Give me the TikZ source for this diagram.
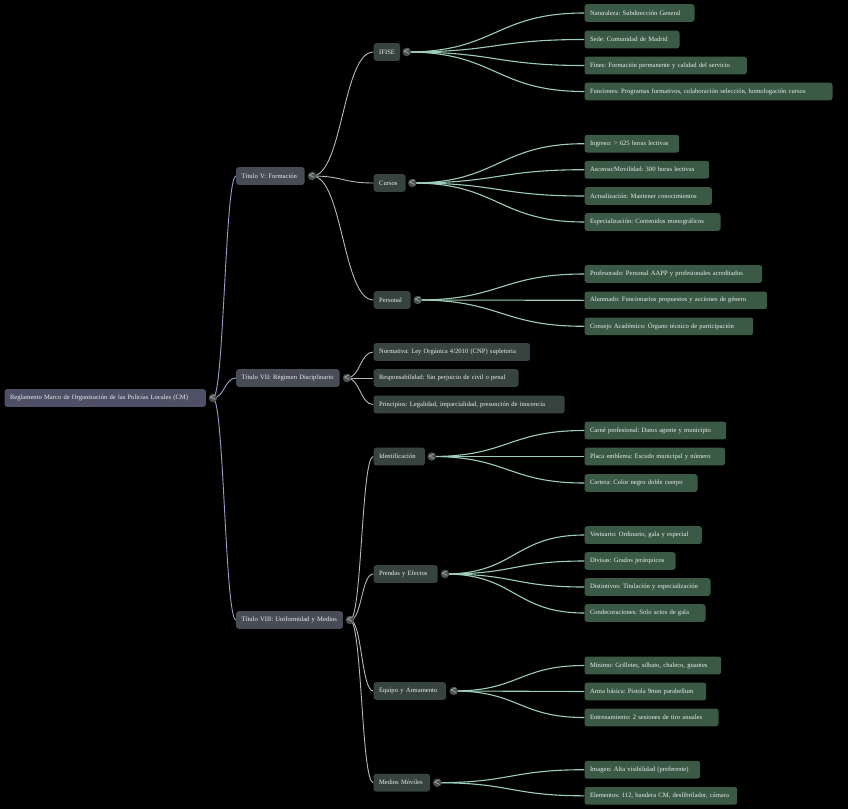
\documentclass[tikz,border=0pt]{standalone}
\usepackage{fontspec}
\setmainfont{Liberation Serif}
\usepackage{tikz}
\usetikzlibrary{backgrounds}

\definecolor{rootfill}{HTML}{4E5166}
\definecolor{titfill}{HTML}{474C57}
\definecolor{secfill}{HTML}{36433E}
\definecolor{leaffill}{HTML}{3A5A46}
\definecolor{rootedge}{HTML}{9C9CCC}
\definecolor{titedge}{HTML}{B4B8BC}
\definecolor{secedge}{HTML}{9CCDB8}
\definecolor{tgfill}{HTML}{4A5252}
\definecolor{txt}{HTML}{ECECEC}

\begin{document}
\begin{tikzpicture}[
    x=1pt, y=-1pt,
    font=\fontsize{6.6}{8}\selectfont\frenchspacing,
    box/.style={rounded corners=2.5pt, text=txt, anchor=west, inner xsep=5.5pt,
                inner ysep=0pt, minimum height=17.6pt},
    rootbox/.style={box, fill=rootfill, text width=#1},
    titbox/.style={box, fill=titfill, text width=#1},
    secbox/.style={box, fill=secfill, text width=#1},
    leafbox/.style={box, fill=leaffill, text width=#1},
    tg/.style={circle, fill=tgfill, inner sep=0pt, minimum size=8.5pt, text=txt,
               font=\fontsize{7.5}{7.5}\sffamily\bfseries},
    lnk/.style={out=0, in=180, out distance=#1, in distance=#1},
    rootlink/.style={draw=rootedge, line width=0.9pt},
    titlink/.style={draw=titedge, line width=0.9pt},
    seclink/.style={draw=secedge, line width=1.1pt},
  ]
    \useasboundingbox (0,0) rectangle (848,809);
    \begin{scope}[on background layer]
      \fill[black] (0,0) rectangle (848,809);
    \end{scope}

    \node[rootbox=190.4] (root) at (4.3,398) {Reglamento Marco de Organización de las Policías Locales (CM)};
    \node[tg] (root-tg) at (213,398) {<};

    \node[titbox=57.3] (t5) at (236,176) {Título V: Formación};
    \node[titbox=92.3] (t7) at (236,378) {Título VII: Régimen Disciplinario};
    \node[titbox=95.7] (t8) at (236,620) {Título VIII: Uniformidad y Medios};
    \node[tg] (t5-tg) at (312,176) {<};
    \node[tg] (t7-tg) at (347,378) {<};
    \node[tg] (t8-tg) at (350,620) {<};

    \node[secbox=15.5] (ifise)    at (373.5,52)  {IFISE};
    \node[secbox=20.8] (cursos)   at (373.5,183) {Cursos};
    \node[secbox=25.8] (personal) at (373.5,300) {Personal};
    \node[tg] (ifise-tg)    at (406.7,52)  {<};
    \node[tg] (cursos-tg)   at (412.3,183) {<};
    \node[tg] (personal-tg) at (417.7,300) {<};

    \node[secbox=145.7] (norm)  at (373.3,352)   {Normativa: Ley Orgánica 4/2010 (CNP) supletoria};
    \node[secbox=134]   (resp)  at (373.3,378)   {Responsabilidad: Sin perjuicio de civil o penal};
    \node[secbox=180]   (princ) at (373.3,404.5) {Principios: Legalidad, imparcialidad, presunción de inocencia};

    \node[secbox=40.5] (ident)   at (373.3,456.5) {Identificación};
    \node[secbox=53.2] (prendas) at (373.3,574)   {Prendas y Efectos};
    \node[secbox=61.5] (equipo)  at (373.3,691)   {Equipo y Armamento};
    \node[secbox=45.5] (medios)  at (373.3,782.7) {Medios Móviles};
    \node[tg] (ident-tg)   at (431.7,456.5) {<};
    \node[tg] (prendas-tg) at (445,574)     {<};
    \node[tg] (equipo-tg)  at (453.7,691)   {<};
    \node[tg] (medios-tg)  at (437.3,782.7) {<};

    \node[leafbox=99]    (nat)   at (584.3,13)   {Naturaleza: Subdirección General};
    \node[leafbox=84]    (sede)  at (584.3,39.5) {Sede: Comunidad de Madrid};
    \node[leafbox=151.4] (fines) at (584.3,65.5) {Fines: Formación permanente y calidad del servicio};
    \node[leafbox=237]   (func)  at (584.3,91.5) {Funciones: Programas formativos, colaboración selección, homologación cursos};

    \node[leafbox=83.7]  (ingreso) at (584.3,143.7) {Ingreso: > 625 horas lectivas};
    \node[leafbox=113.7] (ascenso) at (584.3,169.7) {Ascenso/Movilidad: 300 horas lectivas};
    \node[leafbox=116.4] (actual)  at (584.3,196)   {Actualización: Mantener conocimientos};
    \node[leafbox=125]   (espec)   at (584.3,222)   {Especialización: Contenidos monográficos};

    \node[leafbox=166.7] (prof)    at (584.3,274)   {Profesorado: Personal AAPP y profesionales acreditados};
    \node[leafbox=171.4] (alum)    at (584.3,300.3) {Alumnado: Funcionarios propuestos y acciones de género};
    \node[leafbox=157.7] (consejo) at (584.3,326.3) {Consejo Académico: Órgano técnico de participación};

    \node[leafbox=130.7] (carne)   at (584.3,430.5) {Carné profesional: Datos agente y municipio};
    \node[leafbox=129.7] (placa)   at (584.3,456.5) {Placa emblema: Escudo municipal y número};
    \node[leafbox=102]   (cartera) at (584.3,483)   {Cartera: Color negro doble cuerpo};

    \node[leafbox=106.4] (vest)    at (584.3,535) {Vestuario: Ordinario, gala y especial};
    \node[leafbox=80]    (divisas) at (584.3,561) {Divisas: Grados jerárquicos};
    \node[leafbox=115]   (distint) at (584.3,587) {Distintivos: Titulación y especialización};
    \node[leafbox=110]   (condec)  at (584.3,613) {Condecoraciones: Solo actos de gala};

    \node[leafbox=125.7] (minimo) at (584.3,665.5) {Mínimo: Grilletes, silbato, chaleco, guantes};
    \node[leafbox=110.7] (arma)   at (584.3,691.5) {Arma básica: Pistola 9mm parabellum};
    \node[leafbox=123]   (entren) at (584.3,717.5) {Entrenamiento: 2 sesiones de tiro anuales};

    \node[leafbox=104.7] (imagen) at (584.3,769.7) {Imagen: Alta visibilidad (preferente)};
    \node[leafbox=141.7] (elem)   at (584.3,795.8) {Elementos: 112, bandera CM, desfibrilador, cámara};

    \begin{scope}[on background layer]
      \foreach \b in {t5, t7, t8} \draw[rootlink, lnk=11pt] (root-tg.center) to (\b.west);
      \foreach \b in {ifise, cursos, personal} \draw[titlink, lnk=31pt] (t5-tg.center) to (\b.west);
      \foreach \b in {norm, resp, princ} \draw[titlink, lnk=13pt] (t7-tg.center) to (\b.west);
      \foreach \b in {ident, prendas, equipo, medios} \draw[titlink, lnk=12pt] (t8-tg.center) to (\b.west);
      \foreach \a/\b/\d in {ifise/nat/89, ifise/sede/89, ifise/fines/89, ifise/func/89,
                            cursos/ingreso/86, cursos/ascenso/86, cursos/actual/86, cursos/espec/86,
                            personal/prof/83, personal/alum/83, personal/consejo/83,
                            ident/carne/76, ident/placa/76, ident/cartera/76,
                            prendas/vest/70, prendas/divisas/70, prendas/distint/70, prendas/condec/70,
                            equipo/minimo/65, equipo/arma/65, equipo/entren/65,
                            medios/imagen/73, medios/elem/73}
        \draw[seclink, lnk=\d pt] (\a-tg.center) to (\b.west);
    \end{scope}
\end{tikzpicture}
\end{document}
